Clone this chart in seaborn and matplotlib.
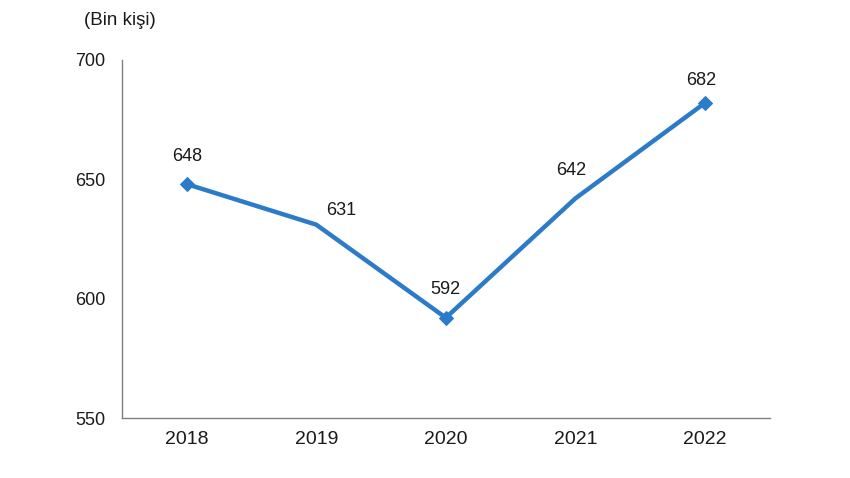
import numpy as np
import pandas as pd
import matplotlib
matplotlib.use('Agg')
import matplotlib.pyplot as plt
import seaborn as sns

years  = ['2018', '2019', '2020', '2021', '2022']
values = [648, 631, 592, 642, 682]
label_offsets = [(0, 20), (18, 10), (0, 20), (-3, 20), (-3, 16)]
y_ticks = [550, 600, 650, 700]

df = pd.DataFrame({'year': years, 'value': values})

sns.set_style('white')
plt.rcParams['font.family'] = ['Liberation Sans', 'DejaVu Sans']

fig = plt.figure(figsize=(8.5, 4.78), dpi=100)
ax = fig.add_axes([0.1435, 0.1255, 0.762, 0.749])

line_color = '#2B7BC8'
sns.lineplot(data=df, x='year', y='value', ax=ax, color=line_color,
             linewidth=3.2, marker='D', markersize=7, markevery=[0, 2, 4],
             markeredgecolor=line_color, sort=False)

for i, (yr, v) in enumerate(zip(years, values)):
    ax.annotate(str(v), (i, v), textcoords='offset points',
                xytext=label_offsets[i], ha='center', va='center',
                fontsize=13, color='#1a1a1a')

ax.set_xlim(-0.5, len(years) - 0.5)
ax.set_ylim(550, 700)
ax.set_yticks(y_ticks)
ax.set_xlabel('')
ax.set_ylabel('')

ax.set_xticks(np.arange(-0.5, len(years)), minor=True)
ax.tick_params(axis='x', which='major', length=0, labelsize=14, pad=9, labelcolor='#1a1a1a')
ax.tick_params(axis='x', which='minor', length=5, direction='out', color='#808080', width=1)
ax.tick_params(axis='y', length=5, direction='out', color='#808080', width=1,
               labelsize=13, pad=7, labelcolor='#1a1a1a')

for s in ['top', 'right']:
    ax.spines[s].set_visible(False)
for s in ['left', 'bottom']:
    ax.spines[s].set_color('#808080')
    ax.spines[s].set_linewidth(1)

fig.text(0.141, 0.957, '(Bin kişi)', ha='center', va='center', fontsize=13.5, color='#1a1a1a')

fig.savefig('out.png', dpi=100)
